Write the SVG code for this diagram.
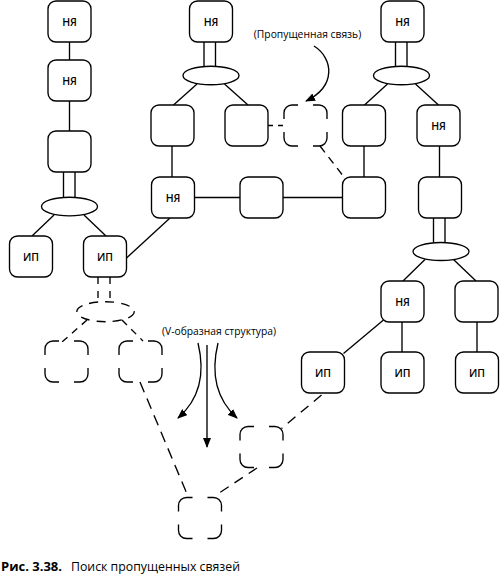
<svg xmlns="http://www.w3.org/2000/svg" xmlns:xlink="http://www.w3.org/1999/xlink" width="500" height="577" viewBox="0 0 500 577">
<style>
.box{fill:#fff;stroke:#000;stroke-width:1.35}
.ell{fill:#fff;stroke:#000;stroke-width:1.35}
.ln{fill:none;stroke:#000;stroke-width:1.35}
.dl{fill:none;stroke:#000;stroke-width:1.35;stroke-dasharray:9 6}
.dc{fill:none;stroke:#000;stroke-width:1.35}
.de{fill:none;stroke:#000;stroke-width:1.35;stroke-dasharray:9 7}
.ar{fill:none;stroke:#000;stroke-width:1.35;marker-end:url(#ah)}
.t{font-family:"Open Sans","Liberation Sans",sans-serif;font-size:10.5px;font-weight:600;fill:#000;text-anchor:middle}
.lb{font-family:"Open Sans","Liberation Sans",sans-serif;font-size:10.3px;font-weight:500;fill:#000;text-anchor:middle}
.cap{font-family:"Open Sans","Liberation Sans",sans-serif;font-size:12.3px;fill:#000}
</style>
<defs>
<marker id="ah" markerUnits="userSpaceOnUse" markerWidth="10" markerHeight="8" refX="9" refY="4" orient="auto">
<path d="M0,0 L10,4 L0,8 z" fill="#000"/>
</marker>
<g id="dbox">
<path class="dc" d="M0,14 V8 A8,8 0 0 1 8,0 H14"/>
<path class="dc" d="M29,0 H35 A8,8 0 0 1 43,8 V14"/>
<path class="dc" d="M43,27 V33 A8,8 0 0 1 35,41 H29"/>
<path class="dc" d="M14,41 H8 A8,8 0 0 1 0,33 V27"/>
</g>
</defs>

<g id="connectors">
<path class="ln" d="M69.5,42 V60"/>
<path class="ln" d="M69.5,101 V131"/>
<path class="ln" d="M63.5,172 V197.5 M75,172 V197.5"/>
<path class="ln" d="M54,215 L32,236"/>
<path class="ln" d="M84,215 L106,236"/>
<path class="ln" d="M204,42 V66.5 M215.5,42 V66.5"/>
<path class="ln" d="M197,84 L173.5,105"/>
<path class="ln" d="M224.5,84 L248,105"/>
<path class="ln" d="M172,146 V177"/>
<path class="ln" d="M194.5,197.5 H240"/>
<path class="ln" d="M283,197.5 H342.5"/>
<path class="ln" d="M170,218 L126.5,258"/>
<path class="ln" d="M395.5,42 V66.5 M407,42 V66.5"/>
<path class="ln" d="M387.5,84 L364.5,105"/>
<path class="ln" d="M415.5,84 L438.5,105"/>
<path class="ln" d="M364,146 V177"/>
<path class="ln" d="M439.5,146 V177"/>
<path class="ln" d="M433.5,218 V242.5 M445,218 V242.5"/>
<path class="ln" d="M425,259.5 L403,281"/>
<path class="ln" d="M453.5,259.5 L476,281"/>
<path class="ln" d="M402,322 V352"/>
<path class="ln" d="M477,322 V352"/>
<path class="ln" d="M383.5,320 L343.5,353.5"/>

<path class="dl" style="stroke-dasharray:5 5" d="M268,125.5 H284"/>
<path class="dl" style="stroke-dasharray:8 6" d="M320,146 L344,177"/>
<path class="dl" style="stroke-dasharray:7 7" d="M98,277 V302 M110,277 V302"/>
<path class="dl" style="stroke-dasharray:7 6" d="M87,320 L62,342"/>
<path class="dl" style="stroke-dasharray:7 6" d="M122,320 L143,341"/>
<path class="dl" style="stroke-dasharray:11 7" d="M140,382 L188.5,497.5"/>
<path class="dl" style="stroke-dasharray:10 7" d="M257,468 L218.5,493.5"/>
<path class="dl" style="stroke-dasharray:10 7" d="M321.5,395 L281.5,428.5"/>

<path class="ar" d="M314,46 C333,58 337,86 306,101"/>
<path class="ar" d="M198,343 C205,372 201,398 178,418"/>
<path class="ar" d="M207,345 V447"/>
<path class="ar" d="M218,343 C211,372 215,398 237,418"/>
</g>

<g id="n1"><rect class="box" x="48" y="1" width="43" height="41" rx="8"/><text class="t" x="69.5" y="25.5">НЯ</text></g>
<g id="n2"><rect class="box" x="48" y="60" width="43" height="41" rx="8"/><text class="t" x="69.5" y="84.5">НЯ</text></g>
<g id="n3"><rect class="box" x="48" y="131" width="43" height="41" rx="8"/></g>
<g id="e1"><ellipse class="ell" cx="69.5" cy="206.5" rx="28" ry="9.3"/></g>
<g id="n4"><rect class="box" x="9.5" y="236" width="43" height="41" rx="8"/><text class="t" x="31" y="260.5">ИП</text></g>
<g id="n5"><rect class="box" x="83.5" y="236" width="43" height="41" rx="8"/><text class="t" x="105" y="260.5">ИП</text></g>

<g id="n6"><rect class="box" x="189.5" y="1" width="43" height="41" rx="8"/><text class="t" x="211" y="25.5">НЯ</text></g>
<g id="e2"><ellipse class="ell" cx="211" cy="75.5" rx="28" ry="9.3"/></g>
<g id="n7"><rect class="box" x="151" y="105" width="43" height="41" rx="8"/></g>
<g id="n8"><rect class="box" x="225" y="105" width="43" height="41" rx="8"/></g>
<g id="d1"><use xlink:href="#dbox" href="#dbox" x="284" y="105"/></g>
<g id="n9"><rect class="box" x="151.5" y="177" width="43" height="41" rx="8"/><text class="t" x="173" y="201.5">НЯ</text></g>
<g id="n10"><rect class="box" x="240" y="177" width="43" height="41" rx="8"/></g>

<g id="n11"><rect class="box" x="381" y="1" width="43" height="41" rx="8"/><text class="t" x="402.5" y="25.5">НЯ</text></g>
<g id="e3"><ellipse class="ell" cx="401.5" cy="75.5" rx="28" ry="9.3"/></g>
<g id="n12"><rect class="box" x="342.5" y="105" width="43" height="41" rx="8"/></g>
<g id="n13"><rect class="box" x="417" y="105" width="43" height="41" rx="8"/><text class="t" x="438.5" y="129.5">НЯ</text></g>
<g id="n14"><rect class="box" x="342.5" y="177" width="43" height="41" rx="8"/></g>
<g id="n15"><rect class="box" x="418.5" y="177" width="43" height="41" rx="8"/></g>
<g id="e4"><ellipse class="ell" cx="441" cy="251.5" rx="28" ry="9"/></g>
<g id="n16"><rect class="box" x="381" y="281" width="43" height="41" rx="8"/><text class="t" x="402.5" y="305.5">НЯ</text></g>
<g id="n17"><rect class="box" x="455" y="281" width="43" height="41" rx="8"/></g>
<g id="n18"><rect class="box" x="301.5" y="352" width="43" height="41" rx="8"/><text class="t" x="323" y="376.5">ИП</text></g>
<g id="n19"><rect class="box" x="381" y="352" width="43" height="41" rx="8"/><text class="t" x="402.5" y="376.5">ИП</text></g>
<g id="n20"><rect class="box" x="455.5" y="352" width="43" height="41" rx="8"/><text class="t" x="477" y="376.5">ИП</text></g>

<g id="de"><ellipse class="de" cx="105.5" cy="311.7" rx="28.7" ry="10"/></g>
<g id="d2"><use xlink:href="#dbox" href="#dbox" x="45" y="341"/></g>
<g id="d3"><use xlink:href="#dbox" href="#dbox" x="119" y="341"/></g>
<g id="d4"><use xlink:href="#dbox" href="#dbox" x="240" y="426.5"/></g>
<g id="d5"><use xlink:href="#dbox" href="#dbox" x="178.5" y="497.5"/></g>

<g id="labels">
<text class="lb" x="307.5" y="37.5">(Пропущенная связь)</text>
<text class="lb" x="219" y="335">(V-образная структура)</text>
<text class="cap" x="1" y="571"><tspan font-weight="bold" font-size="13px">Рис. 3.38.</tspan><tspan dx="9">Поиск пропущенных связей</tspan></text>
</g>
</svg>
